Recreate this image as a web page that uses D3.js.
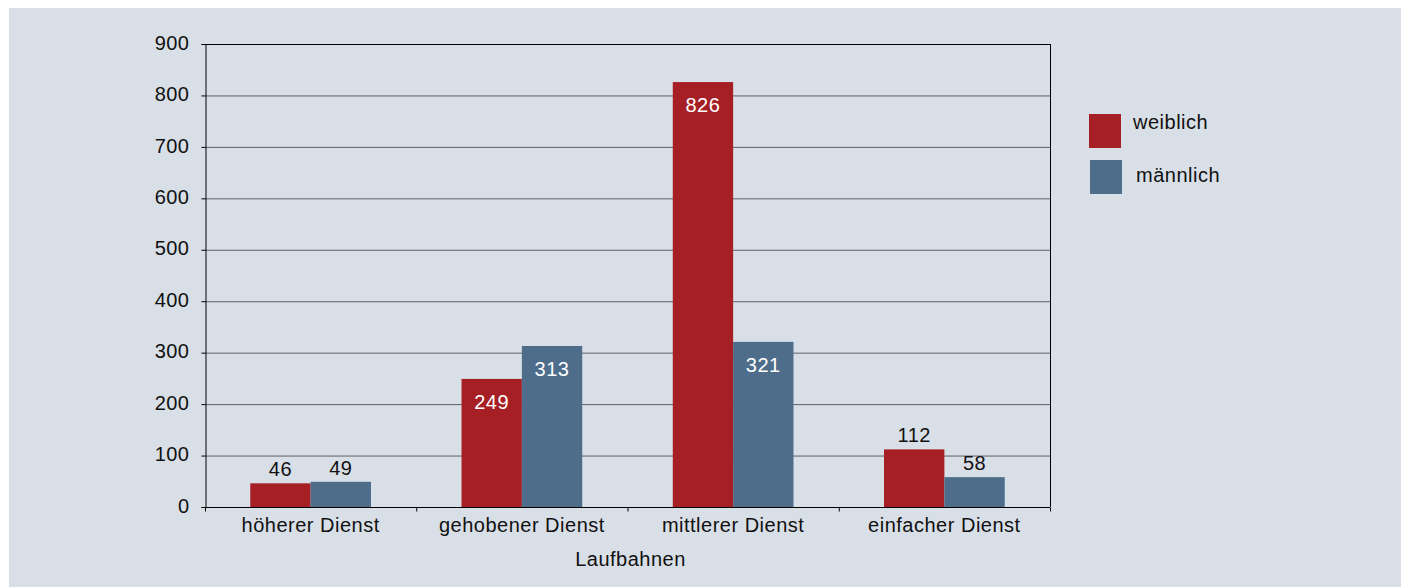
<!DOCTYPE html>
<html><head><meta charset="utf-8">
<script src="https://cdn.jsdelivr.net/npm/d3@7"></script>
<style>body{margin:0;background:#fff;}svg{display:block;font-family:"Liberation Sans",Arial,sans-serif;}</style>
</head><body>
<svg id="c" width="1408" height="587"></svg>
<script>
const categories = ["höherer Dienst","gehobener Dienst","mittlerer Dienst","einfacher Dienst"];
const seriesNames = ["weiblich","männlich"];
const weiblich = [46,249,826,112];
const maennlich = [49,313,321,58];
const yTicks = [0,100,200,300,400,500,600,700,800,900];
const xTitle = "Laufbahnen";
const colors = ["#a61f24","#4d6d8b"];

const FS = 20, LS = "0.5px";
const svg = d3.select("#c");
svg.append("rect").attr("x",9).attr("y",8).attr("width",1392).attr("height",579).attr("fill","#d9dfe7");

const L=205,R=1050,T=44,B=507;
const x = d3.scaleBand().domain(categories).range([L,R]).paddingInner(0).paddingOuter(0);
const x1 = d3.scaleBand().domain(seriesNames).range([0,x.bandwidth()]).paddingOuter(0.75).paddingInner(0);
const y = d3.scaleLinear().domain([0,900]).range([B,T]);

// gridlines
svg.append("g").selectAll("line").data(yTicks.filter(d=>d>0 && d<900)).join("line")
  .attr("x1",L).attr("x2",R).attr("y1",d=>y(d)+0.5).attr("y2",d=>y(d)+0.5)
  .attr("stroke","#5f6165").attr("stroke-width",1);

// frame top & right
svg.append("line").attr("x1",L).attr("x2",R).attr("y1",T+0.5).attr("y2",T+0.5).attr("stroke","#000");
svg.append("line").attr("x1",R+0.5).attr("x2",R+0.5).attr("y1",T).attr("y2",B).attr("stroke","#000");

const data = categories.map((c,i)=>({c, vals:[{s:seriesNames[0],v:weiblich[i]},{s:seriesNames[1],v:maennlich[i]}]}));
const g = svg.append("g").selectAll("g").data(data).join("g").attr("transform",d=>`translate(${x(d.c)},0)`);
g.selectAll("rect").data(d=>d.vals).join("rect")
  .attr("x",d=>x1(d.s)).attr("width",x1.bandwidth())
  .attr("y",d=>y(d.v)).attr("height",d=>B-y(d.v))
  .attr("fill",(d,i)=>colors[i]);
g.selectAll("text").data(d=>d.vals).join("text")
  .attr("x",d=>x1(d.s)+x1.bandwidth()/2)
  .attr("y",d=>d.v>200 ? y(d.v)+30 : y(d.v)-7)
  .attr("text-anchor","middle").attr("font-size",FS).attr("letter-spacing",LS)
  .attr("fill",d=>d.v>200?"#fff":"#111")
  .text(d=>d.v);

// axes
const yAxis = d3.axisLeft(y).tickValues(yTicks).tickSize(4).tickPadding(12);
const ya = svg.append("g").attr("transform",`translate(${L+0.5},0)`).call(yAxis);
ya.select(".domain").attr("stroke","#000");
ya.selectAll("text").attr("font-size",FS).attr("letter-spacing",LS).attr("dy","0.26em").attr("fill","#111").attr("font-family","Liberation Sans, Arial, sans-serif");

const xa = svg.append("g").attr("transform",`translate(0,${B+0.5})`);
xa.append("line").attr("x1",L).attr("x2",R).attr("stroke","#000");
xa.selectAll("line.t").data(d3.range(categories.length+1)).join("line").attr("class","t")
  .attr("x1",i=>L+i*x.bandwidth()+0.5).attr("x2",i=>L+i*x.bandwidth()+0.5).attr("y1",0).attr("y2",4).attr("stroke","#000");
xa.selectAll("text").data(categories).join("text")
  .attr("x",d=>x(d)+x.bandwidth()/2).attr("y",24).attr("text-anchor","middle")
  .attr("font-size",FS).attr("letter-spacing",LS).attr("fill","#111").text(d=>d);

svg.append("text").attr("x",(L+R)/2+3).attr("y",566).attr("text-anchor","middle").attr("font-size",FS).attr("letter-spacing",LS).attr("fill","#111").text(xTitle);

// legend
const leg = svg.append("g");
const ly=[114,160];
seriesNames.forEach((s,i)=>{
  leg.append("rect").attr("x",1089+i).attr("y",ly[i]).attr("width",32).attr("height",34).attr("fill",colors[i]);
  leg.append("text").attr("x",1133+i*3).attr("y",ly[i]+15+i*7).attr("font-size",FS).attr("letter-spacing",LS).attr("fill","#111").text(s);
});
</script>
</body></html>
